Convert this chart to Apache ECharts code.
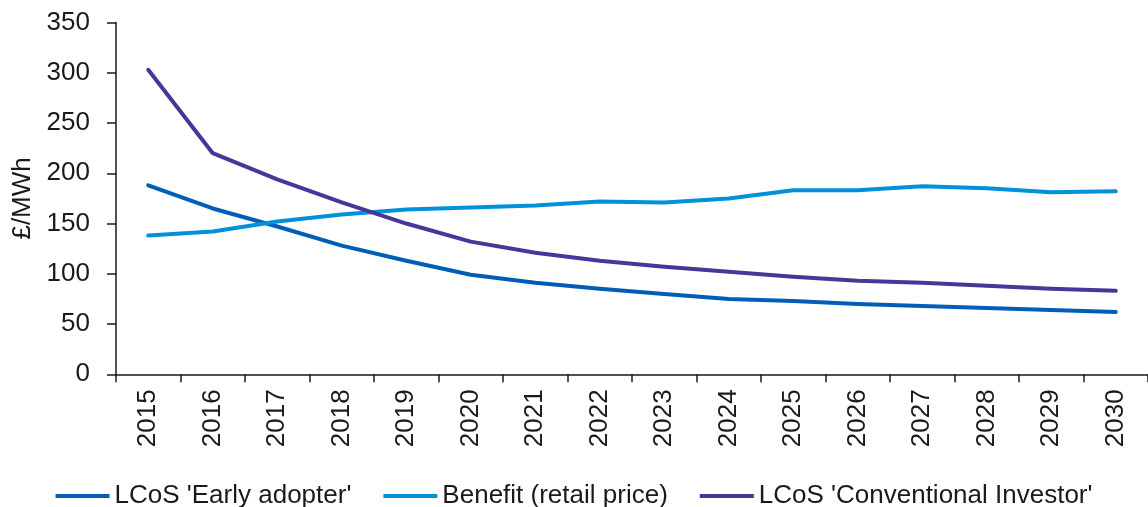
<!DOCTYPE html>
<html>
<head>
<meta charset="utf-8">
<script src="https://cdn.jsdelivr.net/npm/echarts@6/dist/echarts.min.js"></script>
<style>
html, body { margin: 0; padding: 0; background: #ffffff; }
#chart { width: 1148px; height: 507px; }
</style>
</head>
<body>
<div id="chart"></div>
<script>
const categories = ['2015','2016','2017','2018','2019','2020','2021','2022','2023','2024','2025','2026','2027','2028','2029','2030'];
const earlyAdopter = [188, 165, 147, 128, 113, 99, 91, 85, 80, 75, 73, 70, 68, 66, 64, 62];
const benefitRetail = [138, 142, 152, 159, 164, 166, 168, 172, 171, 175, 183, 183, 187, 185, 181, 182];
const conventionalInvestor = [303, 220, 194, 171, 150, 132, 121, 113, 107, 102, 97, 93, 91, 88, 85, 83];
const seriesNames = ["LCoS 'Early adopter'", "Benefit (retail price)", "LCoS 'Conventional Investor'"];
const seriesColors = ['#005EB8', '#0091DA', '#483698'];

const FONT = '"Liberation Sans", Arial, sans-serif';
const chart = echarts.init(document.getElementById('chart'), null, { renderer: 'canvas' });

function mkSeries(name, data, color) {
  return {
    name: name,
    type: 'line',
    data: data,
    symbol: 'none',
    smooth: false,
    lineStyle: { color: color, width: 4, cap: 'round', join: 'round' },
    itemStyle: { color: color },
    emphasis: { disabled: true }
  };
}

chart.setOption({
  animation: false,
  backgroundColor: '#ffffff',
  grid: { left: 116, right: 0, top: 22.5, bottom: 132.7, containLabel: false },
  legend: {
    data: seriesNames,
    top: 476,
    left: 'center',
    icon: 'rect',
    itemWidth: 54,
    itemHeight: 4,
    itemGap: 32,
    textStyle: { fontFamily: FONT, fontSize: 26, color: '#1a1a1a', lineHeight: 30 }
  },
  xAxis: {
    type: 'category',
    data: categories,
    boundaryGap: true,
    axisLine: { lineStyle: { color: '#1a1a1a', width: 1.5 } },
    axisTick: { show: true, length: 8, lineStyle: { color: '#1a1a1a', width: 1.5 } },
    axisLabel: { rotate: 90, margin: 15, fontFamily: FONT, fontSize: 26, color: '#1a1a1a', interval: 0 },
    splitLine: { show: false }
  },
  yAxis: {
    type: 'value',
    min: 0,
    max: 350,
    interval: 50,
    name: '£/MWh',
    nameLocation: 'middle',
    nameGap: 79,
    nameRotate: 90,
    nameTextStyle: { fontFamily: FONT, fontSize: 26, color: '#1a1a1a' },
    axisLine: { show: true, lineStyle: { color: '#1a1a1a', width: 1.5 } },
    axisTick: { show: true, length: 9, lineStyle: { color: '#1a1a1a', width: 1.5 } },
    axisLabel: { margin: 26, fontFamily: FONT, fontSize: 26, color: '#1a1a1a' },
    splitLine: { show: false }
  },
  series: [
    mkSeries(seriesNames[0], earlyAdopter, seriesColors[0]),
    mkSeries(seriesNames[1], benefitRetail, seriesColors[1]),
    mkSeries(seriesNames[2], conventionalInvestor, seriesColors[2])
  ]
});
</script>
</body>
</html>
